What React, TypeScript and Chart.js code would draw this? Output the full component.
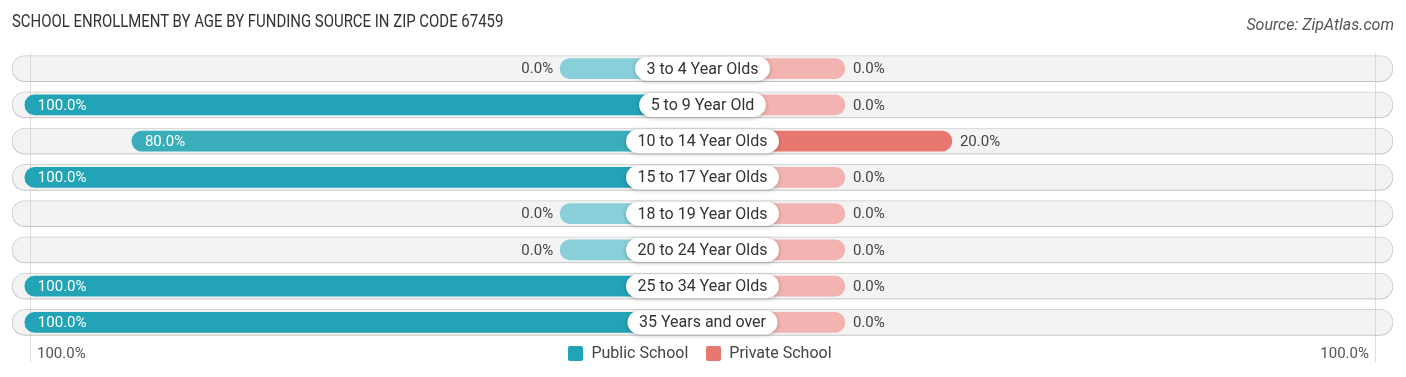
import React, { useEffect, useRef } from "react";
import { Chart, registerables } from "chart.js";

Chart.register(...registerables);

const categories = [
  "3 to 4 Year Olds",
  "5 to 9 Year Old",
  "10 to 14 Year Olds",
  "15 to 17 Year Olds",
  "18 to 19 Year Olds",
  "20 to 24 Year Olds",
  "25 to 34 Year Olds",
  "35 Years and over",
];
const publicSchool = [0, 100, 80, 100, 0, 0, 100, 100];
const privateSchool = [0, 0, 20, 0, 0, 0, 0, 0];
const seriesNames = ["Public School", "Private School"];
const axisLabels = ["100.0%", "100.0%"];
const titleText = "SCHOOL ENROLLMENT BY AGE BY FUNDING SOURCE IN ZIP CODE 67459";
const sourceText = "Source: ZipAtlas.com";

// value units hidden under the central label (bars start from the centre)
const STUB = 26.6;
const EXTENT = 129;
const GUIDE = 125.6;

const FONT = "Roboto, 'Noto Sans', Arial, sans-serif";

const publicColor = (v: number) => (v === 0 ? "#88cfd9" : v >= 100 ? "#23a3b6" : "#3aadbb");
const privateColor = (v: number) => (v === 0 ? "#f2b3b1" : v >= 100 ? "#e46b64" : "#e8776f");

const fmt = (v: number) => v.toFixed(1) + "%";

function roundRect(ctx: CanvasRenderingContext2D, x: number, y: number, w: number, h: number, r: number) {
  ctx.beginPath();
  ctx.moveTo(x + r, y);
  ctx.lineTo(x + w - r, y);
  ctx.arc(x + w - r, y + r, r, -Math.PI / 2, 0);
  ctx.lineTo(x + w, y + h - r);
  ctx.arc(x + w - r, y + h - r, r, 0, Math.PI / 2);
  ctx.lineTo(x + r, y + h);
  ctx.arc(x + r, y + h - r, r, Math.PI / 2, Math.PI);
  ctx.lineTo(x, y + r);
  ctx.arc(x + r, y + r, r, Math.PI, Math.PI * 1.5);
  ctx.closePath();
}

const overlayPlugin = {
  id: "overlay",
  beforeDatasetDraw(chart: any, args: any) {
    if (args.index === 0) {
      const ctx = chart.ctx;
      ctx.save();
      ctx.shadowColor = "rgba(0,0,0,0.16)";
      ctx.shadowBlur = 3;
      ctx.shadowOffsetY = 1;
    }
  },
  afterDatasetDraw(chart: any, args: any) {
    if (args.index === 0) {
      const ctx = chart.ctx;
      ctx.restore();
      const xs = chart.scales.x;
      ctx.save();
      ctx.strokeStyle = "rgba(200,200,200,0.6)";
      ctx.lineWidth = 1;
      [-GUIDE, GUIDE].forEach((g) => {
        const px = Math.round(xs.getPixelForValue(g)) + 0.5;
        ctx.beginPath();
        ctx.moveTo(px, chart.chartArea.top + 2);
        ctx.lineTo(px, chart.chartArea.bottom + 22);
        ctx.stroke();
      });
      ctx.restore();
    }
  },
  afterDatasetsDraw(chart: any) {
    const ctx: CanvasRenderingContext2D = chart.ctx;
    const xs = chart.scales.x;
    const ys = chart.scales.y;
    const cx = xs.getPixelForValue(0);
    ctx.save();
    ctx.textBaseline = "middle";
    categories.forEach((cat, i) => {
      const cy = ys.getPixelForValue(i);
      // value labels
      ctx.font = `15px ${FONT}`;
      const pv = publicSchool[i];
      const left = xs.getPixelForValue(-(STUB + pv));
      if (pv >= 50) {
        ctx.fillStyle = "#ffffff";
        ctx.textAlign = "left";
        ctx.fillText(fmt(pv), left + 13, cy + 1);
      } else {
        ctx.fillStyle = "#444444";
        ctx.textAlign = "right";
        ctx.fillText(fmt(pv), left - 7, cy + 1);
      }
      const rv = privateSchool[i];
      const right = xs.getPixelForValue(STUB + rv);
      if (rv >= 50) {
        ctx.fillStyle = "#ffffff";
        ctx.textAlign = "right";
        ctx.fillText(fmt(rv), right - 13, cy + 1);
      } else {
        ctx.fillStyle = "#444444";
        ctx.textAlign = "left";
        ctx.fillText(fmt(rv), right + 8, cy + 1);
      }
      // centre label pill
      ctx.font = `16px ${FONT}`;
      const tw = ctx.measureText(cat).width;
      const w = tw + 23;
      const h = 24;
      ctx.save();
      ctx.shadowColor = "rgba(0,0,0,0.25)";
      ctx.shadowBlur = 4;
      ctx.shadowOffsetY = 1;
      ctx.fillStyle = "#ffffff";
      roundRect(ctx, cx - w / 2, cy - h / 2, w, h, h / 2);
      ctx.fill();
      ctx.restore();
      ctx.fillStyle = "#333333";
      ctx.textAlign = "center";
      ctx.fillText(cat, cx, cy + 1);
    });
    ctx.restore();
  },
};

function ChartCanvas() {
  const ref = useRef<HTMLCanvasElement | null>(null);
  useEffect(() => {
    if (!ref.current) return;
    const chart = new Chart(ref.current, {
      type: "bar",
      data: {
        labels: categories,
        datasets: [
          {
            label: "row",
            data: categories.map(() => [-EXTENT, EXTENT]) as any,
            backgroundColor: "#f3f3f3",
            borderColor: "#dadada",
            borderWidth: 1,
            borderRadius: 13,
            borderSkipped: false,
            barThickness: 26,
            grouped: false,
            order: 3,
          } as any,
          {
            label: seriesNames[0],
            data: publicSchool.map((v) => [-(STUB + v), 0]) as any,
            backgroundColor: publicSchool.map(publicColor),
            borderWidth: 0,
            borderRadius: 10,
            borderSkipped: false,
            barThickness: 20,
            grouped: false,
            order: 2,
          } as any,
          {
            label: seriesNames[1],
            data: privateSchool.map((v) => [0, STUB + v]) as any,
            backgroundColor: privateSchool.map(privateColor),
            borderWidth: 0,
            borderRadius: 10,
            borderSkipped: false,
            barThickness: 20,
            grouped: false,
            order: 1,
          } as any,
        ],
      },
      options: {
        indexAxis: "y",
        animation: false,
        responsive: false,
        devicePixelRatio: 1,
        layout: { padding: { left: 12, right: 13, top: 50.5, bottom: 36.5 } },
        scales: {
          x: { display: false, min: -EXTENT, max: EXTENT },
          y: { display: false },
        },
        plugins: {
          legend: { display: false },
          tooltip: { enabled: false },
          title: { display: false },
        },
      },
      plugins: [overlayPlugin],
    });
    return () => chart.destroy();
  }, []);
  return <canvas ref={ref} width={1406} height={377} style={{ position: "absolute", left: 0, top: 0 }} />;
}

export default function App() {
  return (
    <div style={{ position: "absolute", left: 0, top: 0, width: 1406, height: 377, background: "#fff", fontFamily: FONT, overflow: "hidden" }}>
      <ChartCanvas />
      <div style={{ position: "absolute", left: 12, top: 10, fontSize: 18, lineHeight: "22px", color: "#333", whiteSpace: "nowrap", transform: "scaleX(0.83)", transformOrigin: "left center" }}>{titleText}</div>
      <div style={{ position: "absolute", right: 12, top: 15, fontSize: 16, lineHeight: "20px", color: "#555", fontStyle: "italic", whiteSpace: "nowrap" }}>{sourceText}</div>
      <div style={{ position: "absolute", left: 37, top: 344, fontSize: 15, lineHeight: "18px", color: "#555" }}>{axisLabels[0]}</div>
      <div style={{ position: "absolute", right: 37, top: 344, fontSize: 15, lineHeight: "18px", color: "#555" }}>{axisLabels[1]}</div>
      <div style={{ position: "absolute", left: 0, width: 1400, top: 344, height: 18, display: "flex", justifyContent: "center", alignItems: "center", gap: 18, fontSize: 16, lineHeight: "18px", color: "#444" }}>
        {seriesNames.map((s, i) => (
          <div key={s} style={{ display: "flex", alignItems: "center", gap: 8 }}>
            <span style={{ display: "inline-block", width: 15, height: 15, borderRadius: 2, background: i === 0 ? "#23a3b6" : "#e8776f" }} />
            <span>{s}</span>
          </div>
        ))}
      </div>
    </div>
  );
}
